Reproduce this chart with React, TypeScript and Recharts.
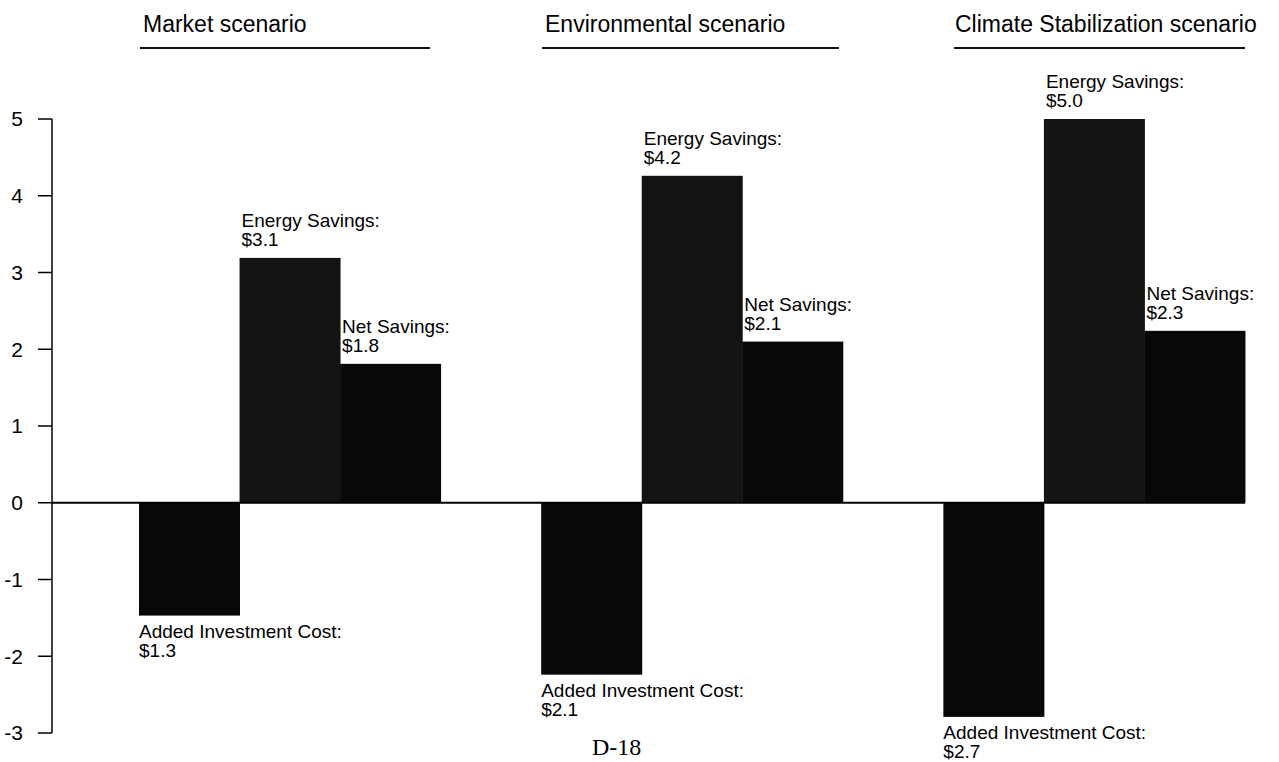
import { BarChart, Bar, XAxis, YAxis, ReferenceLine } from 'recharts';

// scenarios, left to right
const scenarios = ['Market scenario', 'Environmental scenario', 'Climate Stabilization scenario'];

// bar heights as drawn (billion $)
const investmentCost = [-1.47, -2.24, -2.79];
const energySavings = [3.19, 4.26, 5.0];
const netSavings = [1.81, 2.1, 2.24];

// printed amounts next to the bars
const investmentLabels = ['$1.3', '$2.1', '$2.7'];
const energyLabels = ['$3.1', '$4.2', '$5.0'];
const netLabels = ['$1.8', '$2.1', '$2.3'];

const yTicks = [-3, -2, -1, 0, 1, 2, 3, 4, 5];

const FONT = '"Liberation Sans", Arial, Helvetica, sans-serif';

const COLORS: Record<string, string> = {
  inv: '#080808',
  en: '#141414',
  net: '#080808',
  gap: 'none',
};

// one slot per bar, one empty slot between scenarios
const rows: any[] = [];
scenarios.forEach((_, i) => {
  rows.push({ key: `inv-${i}`, kind: 'inv', value: investmentCost[i], title: 'Added Investment Cost:', amount: investmentLabels[i] });
  rows.push({ key: `en-${i}`, kind: 'en', value: energySavings[i], title: 'Energy Savings:', amount: energyLabels[i] });
  rows.push({ key: `net-${i}`, kind: 'net', value: netSavings[i], title: 'Net Savings:', amount: netLabels[i] });
  if (i < scenarios.length - 1) rows.push({ key: `gap-${i}`, kind: 'gap', value: null });
});

const BarWithLabel = (props: any) => {
  const { x, y, width, height, payload } = props;
  if (!payload || payload.value == null) return <g />;
  const top = Math.min(y, y + height);
  const bottom = Math.max(y, y + height);
  const positive = payload.value >= 0;
  const textStyle = { fontFamily: FONT, fontSize: 19, fill: '#000' };
  return (
    <g>
      <rect x={x} y={top} width={width} height={bottom - top} fill={COLORS[payload.kind]} />
      {positive ? (
        <text x={x + 2} y={top - 31} style={textStyle}>
          <tspan x={x + 2}>{payload.title}</tspan>
          <tspan x={x + 2} dy={19}>{payload.amount}</tspan>
        </text>
      ) : (
        <text x={x} y={bottom + 22} style={textStyle}>
          <tspan x={x}>{payload.title}</tspan>
          <tspan x={x} dy={19}>{payload.amount}</tspan>
        </text>
      )}
    </g>
  );
};

// scenario headings with their rules
const headings = [
  { left: 143, lineLeft: 140, lineWidth: 290 },
  { left: 545, lineLeft: 542, lineWidth: 297 },
  { left: 955, lineLeft: 954, lineWidth: 291 },
];

export default function App() {
  return (
    <div style={{ position: 'absolute', left: 0, top: 0, width: 1279, height: 762, overflow: 'hidden', background: '#fff' }}>
      <BarChart
        width={1279}
        height={762}
        data={rows}
        margin={{ top: 119, right: 34, bottom: 29, left: 0 }}
        barCategoryGap={0}
      >
        <XAxis dataKey="key" hide padding={{ left: 87, right: 0 }} />
        <YAxis
          domain={[-3, 5]}
          ticks={yTicks}
          interval={0}
          width={52}
          tickSize={14}
          tickMargin={15}
          fontSize={21}
          axisLine={{ stroke: '#000', strokeWidth: 1.5 }}
          tickLine={{ stroke: '#000', strokeWidth: 1.5 }}
          tick={{ fontFamily: FONT, fontSize: 21, fill: '#000' }}
        />
        <ReferenceLine y={0} stroke="#000" strokeWidth={2} />
        <Bar dataKey="value" isAnimationActive={false} shape={<BarWithLabel />} />
      </BarChart>

      {scenarios.map((name, i) => (
        <div key={name}>
          <div
            style={{
              position: 'absolute',
              left: headings[i].left,
              top: 13,
              fontFamily: FONT,
              fontSize: 23,
              lineHeight: '23px',
              color: '#000',
              whiteSpace: 'nowrap',
            }}
          >
            {name}
          </div>
          <div
            style={{
              position: 'absolute',
              left: headings[i].lineLeft,
              top: 47,
              width: headings[i].lineWidth,
              height: 2,
              background: '#111',
            }}
          />
        </div>
      ))}

      <div
        style={{
          position: 'absolute',
          left: 592,
          top: 735,
          fontFamily: '"Liberation Serif", "Times New Roman", serif',
          fontSize: 24,
          lineHeight: '24px',
          color: '#000',
        }}
      >
        D-18
      </div>
    </div>
  );
}
